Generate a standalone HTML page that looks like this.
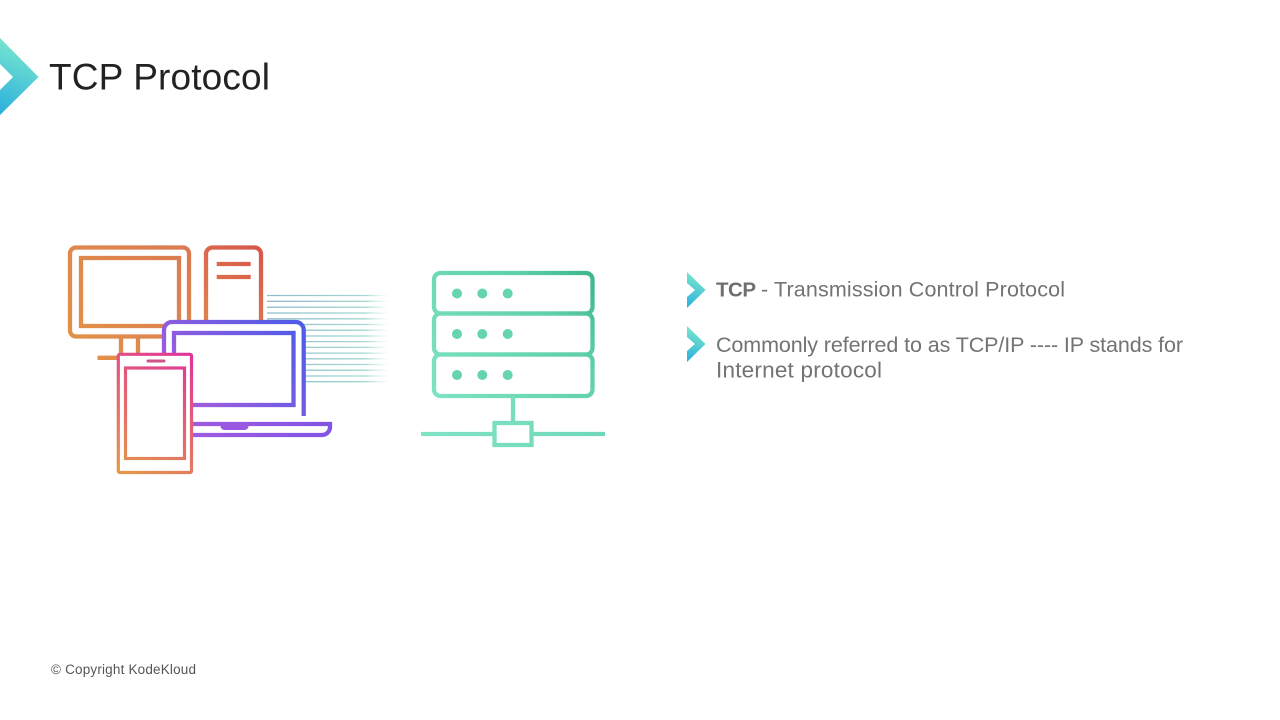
<!DOCTYPE html>
<html lang="en">
<head>
<meta charset="utf-8">
<title>TCP Protocol</title>
<style>
html,body{margin:0;padding:0;background:#fff;width:1280px;height:720px;overflow:hidden}
svg{display:block}
text{font-family:"Liberation Sans",sans-serif}
</style>
</head>
<body>
<svg width="1280" height="720" viewBox="0 0 1280 720" xmlns="http://www.w3.org/2000/svg">
<defs>
<linearGradient id="chev" x1="0.2" y1="0" x2="0" y2="1"><stop offset="0" stop-color="#78e6cd"/><stop offset="1" stop-color="#2aaede"/></linearGradient>
<linearGradient id="mon" gradientUnits="userSpaceOnUse" x1="70" y1="340" x2="190" y2="245"><stop offset="0" stop-color="#e39148"/><stop offset="1" stop-color="#d97a52"/></linearGradient>
<linearGradient id="tow" gradientUnits="userSpaceOnUse" x1="204" y1="320" x2="264" y2="246"><stop offset="0" stop-color="#e0824c"/><stop offset="1" stop-color="#d7554b"/></linearGradient>
<linearGradient id="lap" gradientUnits="userSpaceOnUse" x1="190" y1="420" x2="305" y2="320"><stop offset="0" stop-color="#a85ddc"/><stop offset="1" stop-color="#4a5ce8"/></linearGradient>
<linearGradient id="lapb" gradientUnits="userSpaceOnUse" x1="190" y1="430" x2="332" y2="430"><stop offset="0" stop-color="#a05ae0"/><stop offset="1" stop-color="#8055e4"/></linearGradient>
<linearGradient id="pho" gradientUnits="userSpaceOnUse" x1="117" y1="474" x2="193" y2="353"><stop offset="0" stop-color="#e49a48"/><stop offset="1" stop-color="#e0329c"/></linearGradient>
<linearGradient id="srv" gradientUnits="userSpaceOnUse" x1="430" y1="400" x2="595" y2="270"><stop offset="0" stop-color="#7fe3c5"/><stop offset="0.7" stop-color="#5fd0a8"/><stop offset="1" stop-color="#3cb488"/></linearGradient>
<linearGradient id="srv2" gradientUnits="userSpaceOnUse" x1="421" y1="434" x2="605" y2="434"><stop offset="0" stop-color="#7fe3c5"/><stop offset="1" stop-color="#6fd8b8"/></linearGradient>
<linearGradient id="ln" gradientUnits="userSpaceOnUse" x1="267" y1="0" x2="390" y2="0"><stop offset="0" stop-color="#8fbccb"/><stop offset="0.8" stop-color="#a4d8d2"/><stop offset="1" stop-color="#c8efe6" stop-opacity="0"/></linearGradient>
</defs>

<polygon points="0,38 38.500,77 0,115 0,90 13,77 0,64" fill="url(#chev)"/>
<text x="49" y="89.500" font-size="37" fill="#222" textLength="221" lengthAdjust="spacing">TCP Protocol</text>

<g stroke="url(#ln)" stroke-width="1.300" fill="none">
<line x1="267" x2="390" y1="295.500" y2="295.500"/><line x1="267" x2="390" y1="301.300" y2="301.300"/>
<line x1="267" x2="390" y1="307.200" y2="307.200"/><line x1="267" x2="390" y1="313" y2="313"/>
<line x1="267" x2="390" y1="318.800" y2="318.800"/><line x1="267" x2="390" y1="324.500" y2="324.500"/>
<line x1="267" x2="390" y1="330.200" y2="330.200"/><line x1="267" x2="390" y1="336" y2="336"/>
<line x1="267" x2="390" y1="341.600" y2="341.600"/><line x1="267" x2="390" y1="347.400" y2="347.400"/>
<line x1="267" x2="390" y1="353.100" y2="353.100"/><line x1="267" x2="390" y1="358.800" y2="358.800"/>
<line x1="267" x2="390" y1="364.500" y2="364.500"/><line x1="267" x2="390" y1="370.200" y2="370.200"/>
<line x1="267" x2="390" y1="376" y2="376"/><line x1="267" x2="390" y1="381.700" y2="381.700"/>
</g>

<g fill="none" stroke="url(#mon)" stroke-width="4.300">
<rect x="70" y="247.500" width="119" height="89" rx="6"/>
<rect x="81" y="258" width="98" height="68"/>
<path d="M121 338V356M138 338V356M97.500 357.800H122"/>
</g>
<g fill="none" stroke="url(#tow)" stroke-width="4.300">
<path d="M206 322V254a6.500 6.500 0 0 1 6.500-6.500h42a6.500 6.500 0 0 1 6.500 6.500V322"/>
<path d="M216.700 264H250.700M216.700 277H250.700"/>
</g>

<path d="M164 424V330a8 8 0 0 1 8-8h123.700a8 8 0 0 1 8 8V416" fill="#fff" stroke="url(#lap)" stroke-width="4.300"/>
<rect x="174" y="333" width="119.500" height="72" fill="#fff" stroke="url(#lap)" stroke-width="4.300"/>
<path d="M185 424H330V427a8 8 0 0 1-8 8H185" fill="none" stroke="url(#lapb)" stroke-width="4.300"/>
<path d="M220.500 424H248.500V426a4 4 0 0 1-4 4H224.500a4 4 0 0 1-4-4Z" fill="#9a58e2"/>

<rect x="118.300" y="354.300" width="73.200" height="118.200" rx="1.500" fill="#fff" stroke="url(#pho)" stroke-width="3.200"/>
<rect x="125.500" y="368" width="59" height="90.500" fill="none" stroke="url(#pho)" stroke-width="3.200"/>
<line x1="148" x2="164" y1="361" y2="361" stroke="#cf5288" stroke-width="3" stroke-linecap="round"/>

<g fill="none" stroke="url(#srv)" stroke-width="4.300">
<rect x="434" y="273" width="158.500" height="40.500" rx="6.500"/>
<rect x="434" y="313.500" width="158.500" height="41" rx="6.500"/>
<rect x="434" y="354.500" width="158.500" height="41.500" rx="6.500"/>
</g>
<g fill="#66d4ae">
<circle cx="457" cy="293.500" r="5"/><circle cx="482.300" cy="293.500" r="5"/><circle cx="507.700" cy="293.500" r="5"/>
<circle cx="457" cy="334" r="5"/><circle cx="482.300" cy="334" r="5"/><circle cx="507.700" cy="334" r="5"/>
<circle cx="457" cy="375" r="5"/><circle cx="482.300" cy="375" r="5"/><circle cx="507.700" cy="375" r="5"/>
</g>
<g fill="none" stroke="url(#srv2)" stroke-width="4.300">
<path d="M513 397V423"/>
<rect x="494.500" y="423" width="37" height="22"/>
<path d="M421 434H494M532 434H605"/>
</g>

<polygon points="687,272 705.500,290 687,308 687,297 695,290 687,283" fill="url(#chev)"/>
<polygon points="687,326 705.500,344 687,362 687,351 695,344 687,337" fill="url(#chev)"/>

<text x="716" y="296.500" font-size="20.500" font-weight="700" fill="#6f6f6f" textLength="40" lengthAdjust="spacing">TCP</text>
<text x="761" y="296.500" font-size="21.500" fill="#737373" textLength="304" lengthAdjust="spacing">- Transmission Control Protocol</text>
<text x="716" y="352" font-size="21.500" fill="#737373" textLength="467" lengthAdjust="spacing">Commonly referred to as TCP/IP ---- IP stands for</text>
<text x="716" y="377.500" font-size="22.500" fill="#737373" textLength="166" lengthAdjust="spacing">Internet protocol</text>

<text x="51" y="674" font-size="13.500" fill="#555" textLength="145" lengthAdjust="spacing">© Copyright KodeKloud</text>
</svg>
</body>
</html>
